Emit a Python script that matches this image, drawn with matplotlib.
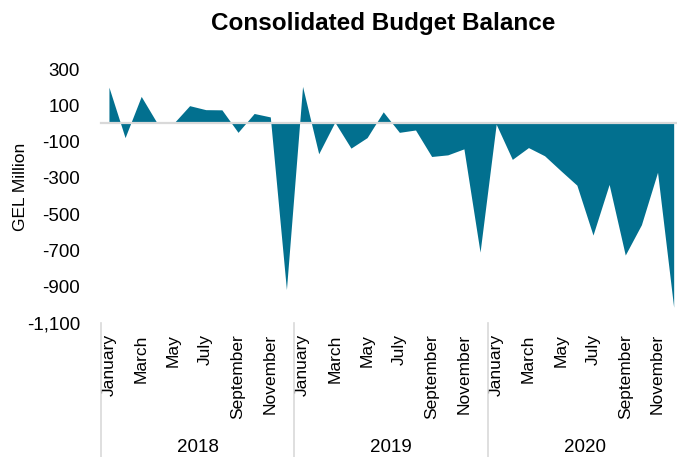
import matplotlib
matplotlib.use("Agg")
import matplotlib.pyplot as plt
import numpy as np

plt.rcParams["font.family"] = ["Liberation Sans", "DejaVu Sans"]

# Monthly consolidated budget balance, GEL million
YEARS = ["2018", "2019", "2020"]
MONTHS = ["January", "February", "March", "April", "May", "June", "July",
          "August", "September", "October", "November", "December"]
BALANCE_2018 = [200, -78, 149, 0, 0, 98, 76, 75, -49, 55, 36, -915]
BALANCE_2019 = [204, -167, 7, -136, -78, 64, -49, -36, -182, -173, -140, -709]
BALANCE_2020 = [-4, -198, -133, -178, -260, -340, -615, -336, -725, -558, -269, -1013]
Y_TICKS = [300, 100, -100, -300, -500, -700, -900, -1100]

FILL_COLOR = "#02708f"
GRID_GRAY = "#d9d9d9"

values = np.array(BALANCE_2018 + BALANCE_2019 + BALANCE_2020, dtype=float)
x = np.arange(len(values))

fig = plt.figure(figsize=(6.77, 4.57), dpi=100)
ax = fig.add_axes([0.149, 0.293, 0.858, 0.556])

ax.fill_between(x, values, 0, color=FILL_COLOR, linewidth=0, zorder=2)
ax.axhline(0, color=GRID_GRAY, linewidth=1.6, zorder=3, clip_on=False)

ax.set_xlim(-0.5, len(values) - 0.5)
ax.set_ylim(-1100, 300)
ax.set_yticks(Y_TICKS)
ax.set_yticklabels([f"{v:,}" for v in Y_TICKS], fontsize=13.5)
ax.tick_params(axis="y", length=0, pad=15)

# every other month labelled, year groups underneath
tick_pos = [i for i in x if i % 2 == 0]
ax.set_xticks(tick_pos)
ax.set_xticklabels([MONTHS[i % 12] for i in tick_pos], rotation=90,
                   fontsize=12.5, va="top", ha="center")
ax.tick_params(axis="x", length=0, pad=8)

for side in ["top", "right", "left", "bottom"]:
    ax.spines[side].set_visible(False)

trans = ax.get_xaxis_transform()
for k in range(len(YEARS)):
    edge = k * 12 - 0.5
    ax.plot([edge, edge], [0, -0.53], transform=trans, color=GRID_GRAY,
            linewidth=1.2, clip_on=False)
    ax.text(k * 12 + 5.5, -0.49, YEARS[k], transform=trans, ha="center",
            va="center", fontsize=13.5)

ax.set_ylabel("GEL Million", fontsize=12.5)
ax.yaxis.set_label_coords(-0.125, 0.535)

fig.text(0.566, 0.948, "Consolidated Budget Balance", ha="center",
         va="center", fontsize=17.5, fontweight="bold", color="black")

fig.savefig("out.png", dpi=100)
